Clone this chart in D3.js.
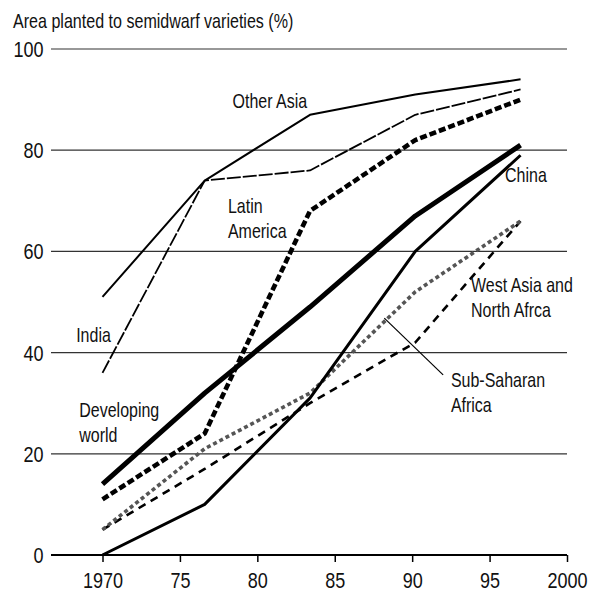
<!DOCTYPE html>
<html>
<head>
<meta charset="utf-8">
<script src="https://cdn.jsdelivr.net/npm/d3@7"></script>
<style>
  body { margin: 0; background: #fff; }
  svg text { font-family: "Liberation Sans", Arial, sans-serif; fill: #111; }
</style>
</head>
<body>
<div id="chart"></div>
<script>
// survey years (as plotted) and shares of area planted to semidwarf varieties
const years = [1970, 1976.6, 1983.4, 1990.2, 1997];
const otherAsia = [51, 74, 87, 91, 94];
const india = [36, 74, 76, 87, 92];
const latinAmerica = [11, 24, 68, 82, 90];
const developingWorld = [14, 32, 49, 67, 81];
const china = [0, 10, 31, 60, 79];
const westAsiaNorthAfrica = [5, 17, 30, 42, 66];
const subSaharanAfrica = [5, 21, 32, 52, 66];

const yTicks = [0, 20, 40, 60, 80, 100];
const xTicks = [1970, 1975, 1980, 1985, 1990, 1995, 2000];
const xTickLabels = ["1970", "75", "80", "85", "90", "95", "2000"];

const series = [
  { name: "West Asia and North Africa", values: westAsiaNorthAfrica, color: "#000", width: 2.6, dash: "8,6" },
  { name: "Sub-Saharan Africa", values: subSaharanAfrica, color: "#555", width: 3.6, dash: "4,3" },
  { name: "China", values: china, color: "#000", width: 3, dash: null },
  { name: "India", values: india, color: "#000", width: 1.8, dash: "14,2" },
  { name: "Other Asia", values: otherAsia, color: "#000", width: 2, dash: null },
  { name: "Latin America", values: latinAmerica, color: "#000", width: 4.6, dash: "7,3" },
  { name: "Developing world", values: developingWorld, color: "#000", width: 5, dash: null },
];

// label positions in data units [year, value at baseline of first line]
const labels = [
  { lines: ["Other Asia"], at: [1978.4, 88.4] },
  { lines: ["Latin", "America"], at: [1978.1, 67.5] },
  { lines: ["India"], at: [1968.3, 42.1] },
  { lines: ["Developing", "world"], at: [1968.5, 27.3] },
  { lines: ["China"], at: [1996, 73.8] },
  { lines: ["West Asia and", "North Afrca"], at: [1993.8, 52] },
  { lines: ["Sub-Saharan", "Africa"], at: [1992.5, 33.2] },
];
const leader = [[1988.2, 46.8], [1992, 35.6]];

const width = 592;
const height = 592;
const squeeze = 0.78; // condensed look
const tickSqueeze = 0.82;

const x = d3.scaleLinear().domain([1970, 2000]).range([102.5, 567]);
const y = d3.scaleLinear().domain([0, 100]).range([555, 49]);

const svg = d3
  .select("#chart")
  .append("svg")
  .attr("width", width)
  .attr("height", height);

svg
  .append("g")
  .attr("transform", `translate(13,28) scale(${squeeze},1)`)
  .append("text")
  .attr("font-size", 20.6)
  .text("Area planted to semidwarf varieties (%)");

// horizontal gridlines + y labels
const grid = svg.append("g");
grid
  .selectAll("line")
  .data(yTicks)
  .join("line")
  .attr("x1", 51)
  .attr("x2", x(2000))
  .attr("y1", (d) => y(d))
  .attr("y2", (d) => y(d))
  .attr("stroke", (d) => (d === 0 ? "#000" : "#333"))
  .attr("stroke-width", (d) => (d === 0 ? 1.8 : 1.2));

grid
  .selectAll("g")
  .data(yTicks)
  .join("g")
  .attr("transform", (d) => `translate(43.5,${y(d)}) scale(${tickSqueeze},1)`)
  .append("text")
  .attr("dy", "0.36em")
  .attr("text-anchor", "end")
  .attr("font-size", 22)
  .text((d) => d);

// x axis
const xAxis = d3
  .axisBottom(x)
  .tickValues(xTicks)
  .tickSize(7)
  .tickPadding(10)
  .tickFormat((d, i) => xTickLabels[i]);

const gx = svg.append("g").attr("transform", `translate(0,${y(0)})`).call(xAxis);
gx.select(".domain").remove();
gx.selectAll(".tick line").attr("stroke", "#000").attr("stroke-width", 1.5);
gx.selectAll(".tick text")
  .attr("font-size", 22)
  .attr("font-family", null)
  .attr("fill", "#111")
  .attr("transform", `scale(${tickSqueeze},1)`);

const line = d3
  .line()
  .x((d, i) => x(years[i]))
  .y((d) => y(d));

svg
  .append("g")
  .selectAll("path")
  .data(series)
  .join("path")
  .attr("d", (d) => line(d.values))
  .attr("fill", "none")
  .attr("stroke", (d) => d.color)
  .attr("stroke-width", (d) => d.width)
  .attr("stroke-dasharray", (d) => d.dash)
  .attr("stroke-linejoin", "round");

svg
  .append("path")
  .attr("d", d3.line().x((d) => x(d[0])).y((d) => y(d[1]))(leader))
  .attr("stroke", "#000")
  .attr("stroke-width", 1.2)
  .attr("fill", "none");

const lab = svg
  .append("g")
  .selectAll("g")
  .data(labels)
  .join("g")
  .attr("transform", (d) => `translate(${x(d.at[0])},${y(d.at[1])}) scale(${squeeze},1)`)
  .append("text")
  .attr("font-size", 20.5);

lab
  .selectAll("tspan")
  .data((d) => d.lines)
  .join("tspan")
  .attr("x", 0)
  .attr("dy", (d, i) => (i === 0 ? 0 : 25))
  .text((d) => d);
</script>
</body>
</html>
